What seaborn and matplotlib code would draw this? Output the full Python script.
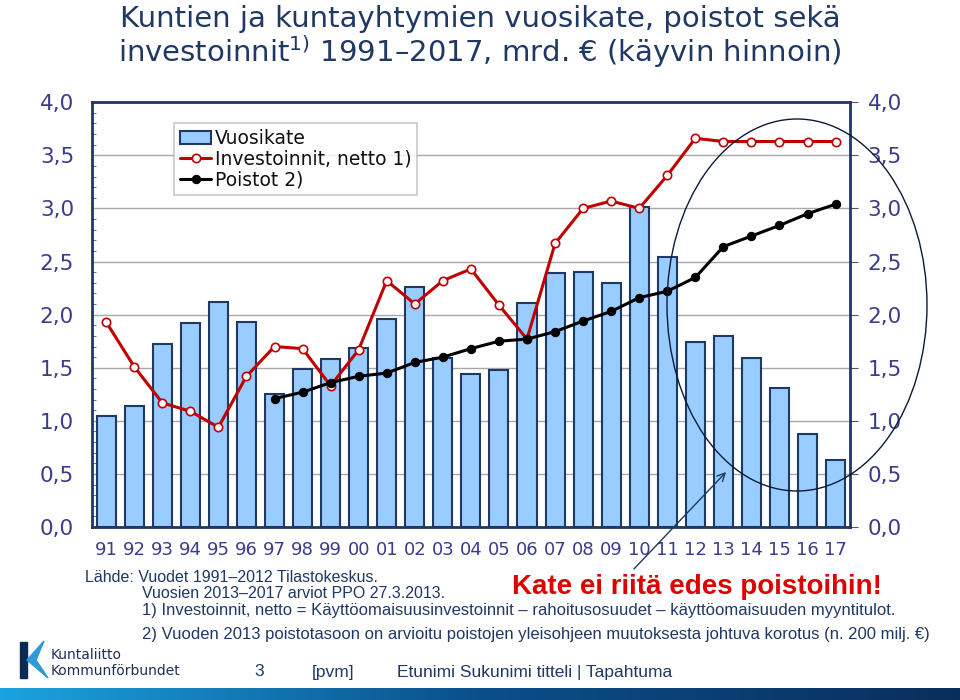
import numpy as np
import pandas as pd
import seaborn as sns
import matplotlib.pyplot as plt
from matplotlib.patches import Ellipse, Rectangle, Polygon, FancyArrowPatch
from matplotlib.ticker import MultipleLocator, FuncFormatter

# Data (mrd. €)
years = ["91", "92", "93", "94", "95", "96", "97", "98", "99", "00", "01", "02", "03", "04",
         "05", "06", "07", "08", "09", "10", "11", "12", "13", "14", "15", "16", "17"]
vuosikate = [1.05, 1.14, 1.72, 1.92, 2.12, 1.93, 1.25, 1.49, 1.58, 1.69, 1.96, 2.26, 1.59, 1.44,
             1.48, 2.11, 2.39, 2.40, 2.30, 3.01, 2.54, 1.74, 1.80, 1.59, 1.31, 0.88, 0.63]
investoinnit = [1.93, 1.51, 1.17, 1.09, 0.94, 1.42, 1.70, 1.68, 1.33, 1.67, 2.32, 2.10, 2.32, 2.43,
                2.09, 1.77, 2.67, 3.00, 3.07, 3.00, 3.31, 3.66, 3.63, 3.63, 3.63, 3.63, 3.63]
poistot = [np.nan] * 6 + [1.21, 1.27, 1.36, 1.42, 1.45, 1.55, 1.60, 1.68, 1.75, 1.77, 1.84, 1.94,
                          2.03, 2.16, 2.22, 2.35, 2.64, 2.74, 2.84, 2.95, 3.04]

df = pd.DataFrame({"vuosi": years, "vuosikate": vuosikate,
                   "investoinnit": investoinnit, "poistot": poistot})
df["pos"] = np.arange(len(df))

navy = "#1F3864"
tick_col = "#3C3C8C"

sns.set_style("white")
plt.rcParams["font.family"] = ["DejaVu Sans"]

fig = plt.figure(figsize=(9.6, 7.0), dpi=100)
ax = fig.add_axes([0.096, 0.247, 0.789, 0.607])

sns.barplot(data=df, x="vuosi", y="vuosikate", color="#99CCFF", edgecolor=navy,
            linewidth=1.5, width=0.68, saturation=1, ax=ax, label="Vuosikate")
sns.lineplot(data=df, x="pos", y="investoinnit", color="#C00000", linewidth=2.2,
             marker="o", markersize=6, markerfacecolor="white", markeredgecolor="#C00000",
             markeredgewidth=1.2, ax=ax, label="Investoinnit, netto 1)")
sns.lineplot(data=df, x="pos", y="poistot", color="black", linewidth=2.2,
             marker="o", markersize=6, markeredgecolor="black", ax=ax, label="Poistot 2)")

ax.set_xlim(-0.5, len(df) - 0.5)
ax.set_ylim(0, 4.0)
ax.set_xlabel("")
ax.set_ylabel("")
ax.yaxis.set_major_locator(MultipleLocator(0.5))
ax.yaxis.set_minor_locator(MultipleLocator(0.1))
ax.grid(axis="y", which="major", color="#A8A8A8", linewidth=1.0)
ax.set_axisbelow(True)
fmt = FuncFormatter(lambda v, p: f"{v:.1f}".replace(".", ","))
ax.yaxis.set_major_formatter(fmt)

# x ticks between bars, labels centered
ax.set_xticks(df["pos"])
ax.set_xticklabels(years)
ax.set_xticks(np.arange(-0.5, len(df)), minor=True)
ax.tick_params(axis="x", which="major", length=0, pad=10, labelsize=13, labelcolor=tick_col)
ax.tick_params(axis="x", which="minor", length=5, direction="out", color="#555577")
ax.tick_params(axis="y", which="major", length=6, direction="out", labelsize=15.5,
               labelcolor=tick_col, color="#555577", right=True, labelright=True, pad=7)
ax.tick_params(axis="y", which="minor", length=3, direction="in", color="#555577", left=True)

for side in ["left", "right", "top", "bottom"]:
    ax.spines[side].set_visible(True)
    ax.spines[side].set_color(navy)
    ax.spines[side].set_linewidth(2)

# legend with Vuosikate first
handles, labels = ax.get_legend_handles_labels()
order = [labels.index("Vuosikate"), labels.index("Investoinnit, netto 1)"),
         labels.index("Poistot 2)")]
leg = ax.legend([handles[i] for i in order], [labels[i] for i in order],
                loc="upper left", bbox_to_anchor=(0.108, 0.95), fontsize=13.5, frameon=True,
                fancybox=False, edgecolor="#BBBBBB", handlelength=1.7, handletextpad=0.2,
                labelspacing=0.1, borderpad=0.3, borderaxespad=0)
leg.get_frame().set_linewidth(1.2)
for t in leg.get_texts():
    t.set_color("#111111")

# Title
fig.text(0.5, 0.993, "Kuntien ja kuntayhtymien vuosikate, poistot sekä\n"
         "investoinnit$^{1)}$ 1991–2017, mrd. € (käyvin hinnoin)",
         ha="center", va="top", fontsize=21, color=navy, linespacing=1.0)

# Highlight ellipse and arrow
fig.patches.append(Ellipse((797 / 960, 1 - 305 / 700), 260 / 960, 372 / 700,
                           transform=fig.transFigure, fill=False, edgecolor="#0A1A3A",
                           linewidth=1.0))
fig.add_artist(FancyArrowPatch(
    (632 / 960, 1 - 571 / 700), (728 / 960, 1 - 470 / 700), transform=fig.transFigure,
    arrowstyle="->", mutation_scale=14, color="#1F3864", linewidth=1.0))

fig.text(512 / 960, 1 - 587 / 700, "Kate ei riitä edes poistoihin!", color="#E00000",
         fontsize=20, fontweight="bold", family="Liberation Sans", va="center")

# Source and notes
note_kw = dict(color=navy, family="Liberation Sans", va="center")
fig.text(85 / 960, 1 - 577 / 700, "Lähde: Vuodet 1991–2012 Tilastokeskus.", fontsize=11.5,
         **note_kw)
fig.text(142 / 960, 1 - 594 / 700, "Vuosien 2013–2017 arviot PPO 27.3.2013.", fontsize=11.5,
         **note_kw)
fig.text(142 / 960, 1 - 611 / 700,
         "1) Investoinnit, netto = Käyttöomaisuusinvestoinnit – rahoitusosuudet – "
         "käyttöomaisuuden myyntitulot.", fontsize=12, **note_kw)
fig.text(142 / 960, 1 - 634 / 700,
         "2) Vuoden 2013 poistotasoon on arvioitu poistojen yleisohjeen muutoksesta "
         "johtuva korotus (n. 200 milj. €)", fontsize=12, **note_kw)

# Footer
foot_kw = dict(fontsize=12.5, color="#1F3864", family="Liberation Sans", va="center")
fig.text(254 / 960, 1 - 672 / 700, "3", **foot_kw)
fig.text(312 / 960, 1 - 672 / 700, "[pvm]", **foot_kw)
fig.text(397 / 960, 1 - 672 / 700, "Etunimi Sukunimi titteli | Tapahtuma", **foot_kw)

# Logo
fig.patches.append(Rectangle((20 / 960, 1 - 678 / 700), 7 / 960, 36 / 700,
                             transform=fig.transFigure, color="#0B2A55"))
fig.patches.append(Polygon([(27 / 960, 1 - 660 / 700), (44 / 960, 1 - 641 / 700),
                            (36 / 960, 1 - 660 / 700), (48 / 960, 1 - 678 / 700)],
                           closed=True, transform=fig.transFigure, color="#2E9AD8"))
logo_kw = dict(fontsize=10, color="#1F2F55", family="DejaVu Sans", va="center")
fig.text(51 / 960, 1 - 655 / 700, "Kuntaliitto", **logo_kw)
fig.text(51 / 960, 1 - 671 / 700, "Kommunförbundet", **logo_kw)

# Bottom gradient band
band = fig.add_axes([0, 0, 1, 12 / 700])
grad = np.linspace(0, 1, 256).reshape(1, -1)
band.imshow(grad, aspect="auto", cmap=sns.blend_palette(["#1BA3DF", "#0B4F8A", "#0A2E5C"],
                                                       as_cmap=True))
band.axis("off")

fig.savefig("out.png", dpi=100)
